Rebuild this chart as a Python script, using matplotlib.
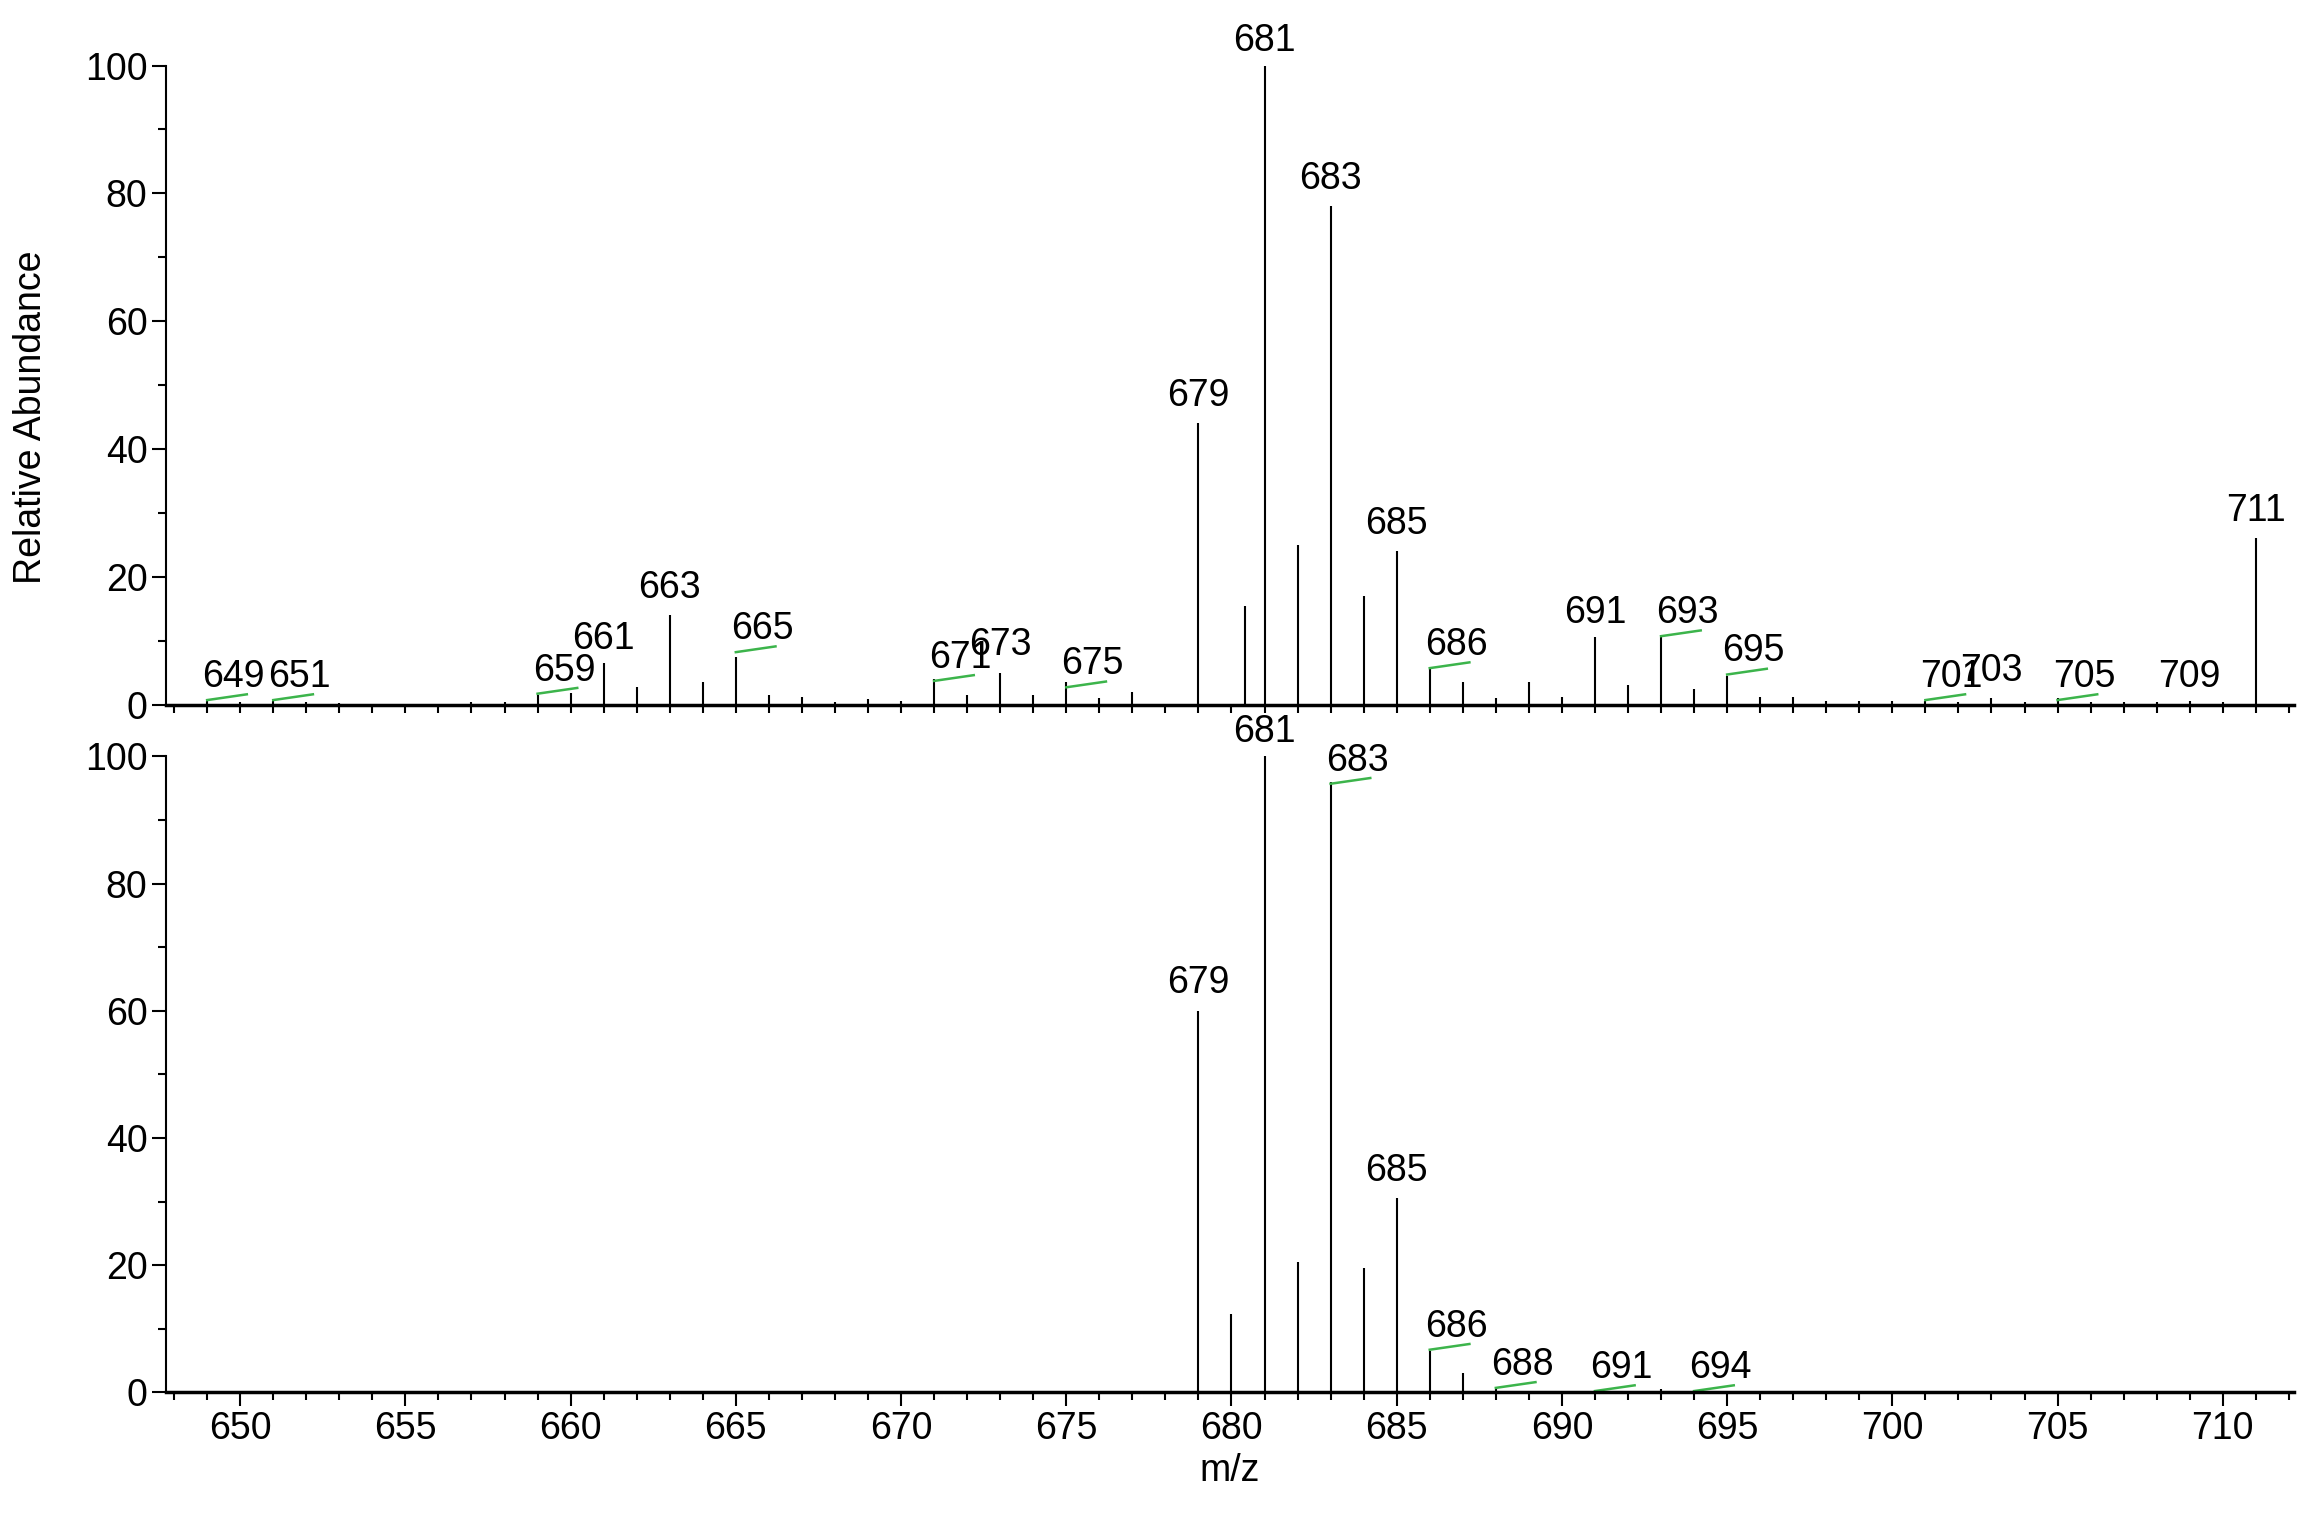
import numpy as np
import matplotlib.pyplot as plt
from matplotlib.ticker import MultipleLocator

plt.rcParams['font.family'] = ['Liberation Sans', 'DejaVu Sans']

# top spectrum (m/z, relative abundance)
top_mz = [649, 650, 651, 652, 653, 657, 658, 659, 660, 661, 662, 663, 664, 665, 666, 667,
          668, 669, 670, 671, 672, 673, 674, 675, 676, 677, 679, 680.4, 681, 682, 683, 684,
          685, 686, 687, 688, 689, 690, 691, 692, 693, 694, 695, 696, 697, 698, 699, 700,
          701, 702, 703, 704, 705, 706, 707, 708, 709, 710, 711]
top_ab = [0.5, 0.4, 0.6, 0.4, 0.3, 0.4, 0.4, 1.5, 1.8, 6.5, 2.8, 14, 3.5, 7.5, 1.5, 1.2,
          0.4, 0.8, 0.5, 4, 1.5, 5, 1.5, 3.5, 1, 2, 44, 15.5, 100, 25, 78, 17,
          24, 5.5, 3.5, 1, 3.5, 1.2, 10.5, 3, 10.5, 2.5, 4.5, 1.2, 1.2, 0.5, 0.5, 0.5,
          0.6, 0.4, 1, 0.4, 1, 0.4, 0.4, 0.4, 0.5, 0.4, 26]
top_labels = [649, 651, 659, 661, 663, 665, 671, 673, 675, 679, 681, 683, 685, 686,
              691, 693, 695, 701, 703, 705, 709, 711]
top_label_y = [1.5, 1.5, 2.5, 7.5, 15.5, 9, 4.5, 6.5, 3.5, 45.5, 101, 79.5, 25.5, 6.5,
               11.5, 11.5, 5.5, 1.5, 2.5, 1.5, 1.5, 27.5]
# labels with a green leader line under them
top_green = [649, 651, 659, 665, 671, 675, 686, 693, 695, 701, 705]

bot_mz = [679, 680, 681, 682, 683, 684, 685, 686, 687, 688, 693]
bot_ab = [60, 12.3, 100, 20.5, 96, 19.6, 30.5, 6.5, 3, 0.5, 0.5]
bot_labels = [679, 681, 683, 685, 686, 688, 691, 694]
bot_label_y = [61.5, 101, 96.5, 32, 7.5, 1.5, 1, 1]
bot_green = [683, 686, 688, 691, 694]

fig = plt.figure(figsize=(23.08, 15.25), dpi=100)
ax1 = fig.add_axes([0.072, 0.538, 0.922, 0.419])
ax2 = fig.add_axes([0.072, 0.087, 0.922, 0.417])

def style(ax):
    ax.set_xlim(647.76, 712.16)
    ax.set_ylim(0, 100)
    for s in ['top', 'right']:
        ax.spines[s].set_visible(False)
    ax.spines['left'].set_linewidth(1.5)
    ax.spines['bottom'].set_linewidth(2.5)
    ax.yaxis.set_major_locator(MultipleLocator(20))
    ax.yaxis.set_minor_locator(MultipleLocator(10))
    ax.xaxis.set_major_locator(MultipleLocator(5))
    ax.xaxis.set_minor_locator(MultipleLocator(1))
    ax.tick_params(axis='both', labelsize=27, width=1.5, length=10)
    ax.tick_params(axis='both', which='minor', width=1.5, length=6)

def labels(ax, mz, y, green):
    for m, yy in zip(mz, y):
        if m in green:
            ax.text(m + 0.8, yy, str(m), ha='center', va='bottom', fontsize=27)
            ax.plot([m, m + 1.2], [yy - 0.8, yy + 0.1], color='#3cb44b', lw=1.8)
        else:
            ax.text(m, yy, str(m), ha='center', va='bottom', fontsize=27)

style(ax1)
ax1.vlines(top_mz, 0, top_ab, color='black', lw=1.5)
labels(ax1, top_labels, top_label_y, top_green)
ax1.tick_params(axis='x', labelbottom=False, length=6)
ax1.set_ylabel('Relative Abundance', fontsize=27)
ax1.yaxis.set_label_coords(-0.055, 0.45)

style(ax2)
ax2.vlines(bot_mz, 0, bot_ab, color='black', lw=1.5)
labels(ax2, bot_labels, bot_label_y, bot_green)
ax2.set_xlabel('m/z', fontsize=27)

fig.savefig('out.png')
